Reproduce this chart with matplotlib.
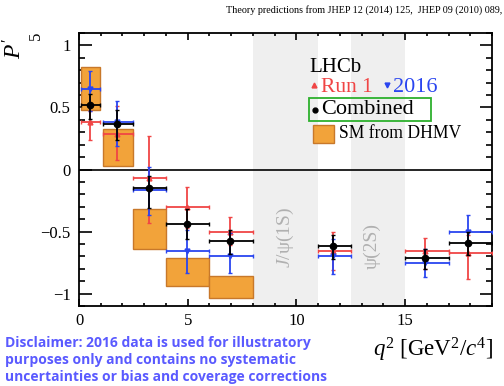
import numpy as np
import matplotlib
matplotlib.use("Agg")
import matplotlib.pyplot as plt
from matplotlib.patches import Rectangle

plt.rcParams["font.family"] = ["Liberation Serif", "DejaVu Serif"]
plt.rcParams["mathtext.fontset"] = "custom"
plt.rcParams["mathtext.rm"] = "Liberation Serif"
plt.rcParams["mathtext.it"] = "Liberation Serif:italic"

# q2 bins and marker positions
bin_lo = [0.1, 1.1, 2.5, 4.0, 6.0, 11.0, 15.0, 17.0]
bin_hi = [0.98, 2.5, 4.0, 6.0, 8.0, 12.5, 17.0, 19.0]
q2_pt = [0.5, 1.75, 3.2, 4.95, 6.95, 11.7, 15.9, 17.9]

# combined
comb = [0.52, 0.365, -0.152, -0.44, -0.58, -0.62, -0.715, -0.59]
comb_lo = [0.41, 0.24, -0.31, -0.56, -0.68, -0.72, -0.80, -0.69]
comb_hi = [0.61, 0.48, -0.05, -0.32, -0.49, -0.53, -0.64, -0.50]

# Run 1
run1 = [0.38, 0.285, -0.067, -0.30, -0.50, -0.653, -0.66, -0.67]
run1_lo = [0.24, 0.08, -0.43, -0.47, -0.61, -0.81, -0.80, -0.88]
run1_hi = [0.47, 0.51, 0.27, -0.14, -0.38, -0.50, -0.55, -0.53]

# 2016
d16 = [0.645, 0.38, -0.165, -0.655, -0.695, -0.70, -0.755, -0.50]
d16_lo = [0.47, 0.19, -0.365, -0.835, -0.835, -0.84, -0.87, -0.61]
d16_hi = [0.79, 0.55, 0.02, -0.49, -0.515, -0.56, -0.64, -0.37]

# SM prediction (DHMV) boxes
sm_lo_q2 = [0.1, 1.1, 2.5, 4.0, 6.0]
sm_hi_q2 = [0.98, 2.5, 4.0, 6.0, 8.0]
sm_lo = [0.48, 0.027, -0.64, -0.94, -1.035]
sm_hi = [0.83, 0.325, -0.315, -0.715, -0.86]

vetoes = [(8.0, 11.0), (12.5, 15.0)]

W, H = 504, 386
fig = plt.figure(figsize=(W / 100, H / 100), dpi=100)
ax = fig.add_axes([79 / W, 80 / H, 413 / W, 273 / H])


def fx(px):
    return px / W


def fy(py):
    return 1 - py / H


for a, b in vetoes:
    ax.axvspan(a, b, color="#efefef", lw=0, zorder=0)

for a, b, lo, hi in zip(sm_lo_q2, sm_hi_q2, sm_lo, sm_hi):
    ax.add_patch(Rectangle((a, lo), b - a, hi - lo, facecolor="#f2a33a",
                           edgecolor="#c8782a", lw=1.0, zorder=2))

ax.axhline(0, color="black", lw=1.2, zorder=1)


def draw(vals, lo, hi, color, marker, ms, z):
    x = np.array(q2_pt)
    v = np.array(vals)
    xerr = [x - np.array(bin_lo), np.array(bin_hi) - x]
    yerr = [v - np.array(lo), np.array(hi) - v]
    ax.errorbar(x, v, xerr=xerr, yerr=yerr, fmt=marker, color=color, ms=ms,
                lw=1.3, capsize=1.2, capthick=1.0, zorder=z)


draw(run1, run1_lo, run1_hi, "#f04545", "^", 3.5, 3)
draw(d16, d16_lo, d16_hi, "#2a45f0", "v", 3.5, 4)
draw(comb, comb_lo, comb_hi, "black", "o", 4.5, 5)

ax.text(9.5, -0.545, "$J$/ψ(1S)", rotation=90, ha="center", va="center",
        color="#b0b0b0", fontsize=14)
ax.text(13.5, -0.62, "ψ(2S)", rotation=90, ha="center", va="center",
        color="#b0b0b0", fontsize=14)

ax.set_xlim(0, 19)
ax.set_ylim(-1.1, 1.1)
ax.set_xticks([0, 5, 10, 15])
ax.set_xticks(np.arange(0, 19.5, 1), minor=True)
ax.set_yticks([-1, -0.5, 0, 0.5, 1])
ax.set_yticklabels(["−1", "−0.5", "0", "0.5", "1"])
ax.set_yticks(np.arange(-1.1, 1.15, 0.1), minor=True)
ax.tick_params(which="both", direction="in", top=True, right=True,
               labelsize=12, width=1.2)
ax.tick_params(axis="y", which="major", length=9, pad=6)
ax.tick_params(axis="y", which="minor", length=4.5)
ax.tick_params(axis="x", which="major", length=5, pad=5)
ax.tick_params(axis="x", which="minor", length=2.5)
for s in ax.spines.values():
    s.set_linewidth(1.3)

# axis labels
fig.text(fx(15), fy(49), "$P'$", rotation=90, fontsize=17,
         ha="center", va="center")
fig.text(fx(36), fy(36), "5", rotation=90, fontsize=12,
         ha="center", va="center")
fig.text(fx(493), fy(350), "$q^2$ [GeV$^2$/$c^4$]", fontsize=16.5,
         ha="right", va="center")

fig.text(fx(502), fy(10), "Theory predictions from JHEP 12 (2014) 125,  JHEP 09 (2010) 089,",
         fontsize=7.3, ha="right", va="center")

# legend
fig.text(fx(309), fy(67), "LHCb", fontsize=15, ha="left", va="center")
fig.lines.append(plt.Line2D([fx(314)], [fy(85)], marker="^", color="#f04545",
                            ms=3.5, transform=fig.transFigure))
fig.text(fx(321), fy(87), "Run 1", fontsize=15.5, color="#f04545",
         ha="left", va="center")
fig.lines.append(plt.Line2D([fx(387)], [fy(85)], marker="v", color="#2a45f0",
                            ms=3.5, transform=fig.transFigure))
fig.text(fx(393), fy(87), "2016", fontsize=16, color="#2a45f0",
         ha="left", va="center")
fig.patches.append(Rectangle((fx(309), fy(121)), fx(122), 23 / H, fill=False,
                             edgecolor="#2db02d", lw=1.3,
                             transform=fig.transFigure))
fig.lines.append(plt.Line2D([fx(315)], [fy(110)], marker="o", color="black",
                            ms=3.5, transform=fig.transFigure))
fig.text(fx(321), fy(110), "Combined", fontsize=16, ha="left", va="center")
fig.patches.append(Rectangle((fx(313), fy(143)), fx(21), 18 / H,
                             facecolor="#f2a33a", edgecolor="#c8782a", lw=1.0,
                             transform=fig.transFigure))
fig.text(fx(339), fy(134), "SM from DHMV", fontsize=12.7, ha="left", va="center")

disclaimer = ["Disclaimer: 2016 data is used for illustratory",
              "purposes only and contains no systematic",
              "uncertainties or bias and coverage corrections"]
for i, line in enumerate(disclaimer):
    fig.text(fx(5), fy(343 + 17 * i), line, fontsize=10, color="#5a5aff",
             fontweight="bold", family="Open Sans", ha="left", va="center")

fig.savefig("out.png", dpi=100)
